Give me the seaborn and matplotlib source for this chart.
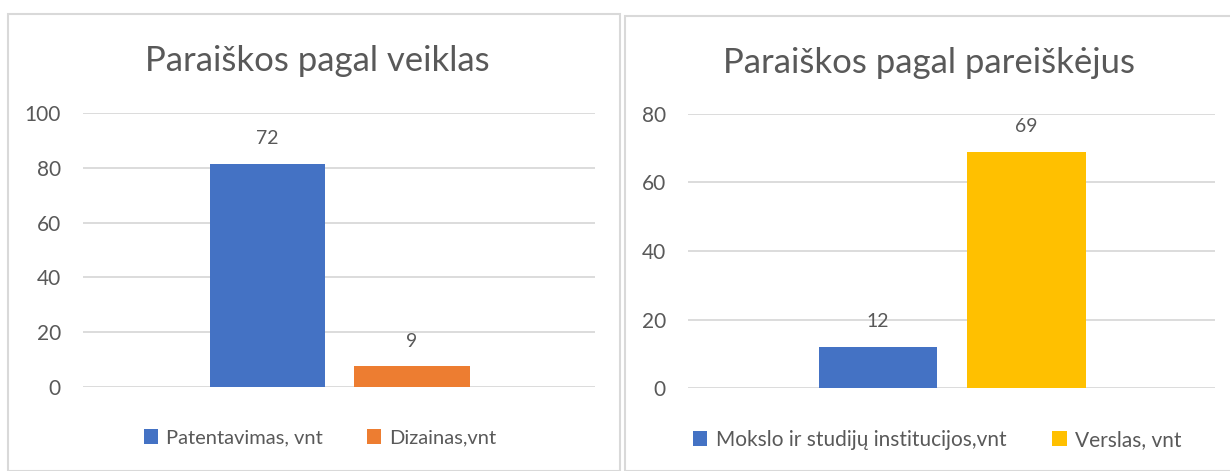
import matplotlib
matplotlib.use("Agg")
import matplotlib.pyplot as plt
from matplotlib.patches import Rectangle, Patch
import seaborn as sns

# left chart: bar heights as drawn, labels as printed
veiklos = ["Patentavimas, vnt", "Dizainas,vnt"]
veiklos_aukstis = [81.5, 7.6]
veiklos_etiketes = ["72", "9"]
veiklos_spalvos = ["#4472C4", "#ED7D31"]
veiklos_ticks = [0, 20, 40, 60, 80, 100]

# right chart
pareiskejai = ["Mokslo ir studijų institucijos,vnt", "Verslas, vnt"]
pareiskejai_aukstis = [12, 69]
pareiskejai_etiketes = ["12", "69"]
pareiskejai_spalvos = ["#4472C4", "#FFC000"]
pareiskejai_ticks = [0, 20, 40, 60, 80]

sns.set_theme(style="white")
plt.rcParams["font.family"] = ["Lato", "DejaVu Sans"]
grey = "#595959"
gridc = "#D9D9D9"

fig = plt.figure(figsize=(12.3, 4.71), dpi=100)
W, H = 1230.0, 471.0

# chart frames
fig.patches.append(Rectangle((8 / W, 0), 612 / W, 1 - 14 / H, transform=fig.transFigure,
                             fill=False, edgecolor=gridc, linewidth=1.5))
fig.patches.append(Rectangle((625 / W, 0), 610 / W, 1 - 16 / H, transform=fig.transFigure,
                             fill=False, edgecolor=gridc, linewidth=1.5))


def draw(rect, cats, vals, labels, colors, ticks, title, title_y, leg_xy, leg_fs):
    ax = fig.add_axes(rect)
    sns.barplot(x=cats, y=vals, hue=cats, palette=colors, width=0.8,
                legend=False, ax=ax, saturation=1, linewidth=0)
    for i, (v, t) in enumerate(zip(vals, labels)):
        ax.annotate(t, (i, v), xytext=(0, 18), textcoords="offset points",
                    ha="center", va="center", fontsize=14, color=grey)
    ax.set_ylim(ticks[0], ticks[-1])
    ax.set_yticks(ticks)
    ax.set_xlim(-1.28, 2.27)
    ax.set_xticks([])
    ax.grid(axis="y", color=gridc, linewidth=1.3)
    ax.set_axisbelow(True)
    for s in ax.spines.values():
        s.set_visible(False)
    ax.tick_params(axis="y", length=0, pad=16, labelsize=15, labelcolor=grey)
    ax.set_ylabel("")
    fig.text(rect[0] + rect[2] / 2 - 0.018, title_y, title, ha="center", va="center",
             fontsize=25, color=grey)
    handles = [Patch(facecolor=c, edgecolor="none", label=l) for c, l in zip(colors, cats)]
    fig.legend(handles=handles, loc="center", bbox_to_anchor=leg_xy, ncol=2, frameon=False,
               fontsize=leg_fs, labelcolor=grey, handlelength=0.7, handleheight=0.7,
               handletextpad=0.4, columnspacing=2.2)
    return ax


draw([83 / W, 1 - 387 / H, 512 / W, 274 / H], veiklos, veiklos_aukstis, veiklos_etiketes,
     veiklos_spalvos, veiklos_ticks, "Paraiškos pagal veiklas", 1 - 61 / H,
     (320 / W, 1 - 438 / H), 14.5)
draw([688 / W, 1 - 388 / H, 527 / W, 274 / H], pareiskejai, pareiskejai_aukstis,
     pareiskejai_etiketes, pareiskejai_spalvos, pareiskejai_ticks,
     "Paraiškos pagal pareiškėjus", 1 - 63 / H, (937 / W, 1 - 440 / H), 15)

plt.savefig("out.png", dpi=100)
